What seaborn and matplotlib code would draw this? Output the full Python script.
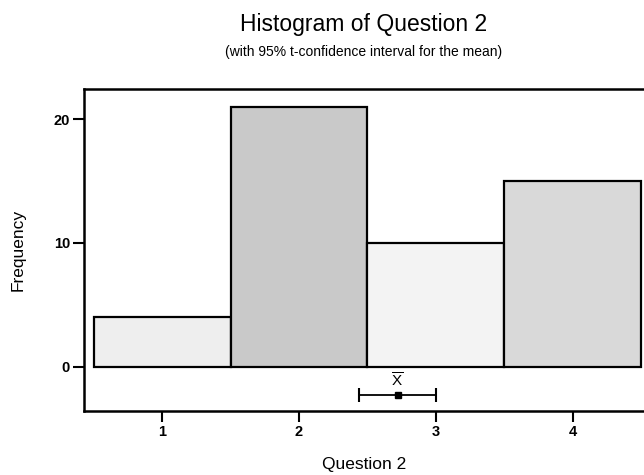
import numpy as np
import pandas as pd
import matplotlib
matplotlib.use('Agg')
import matplotlib.pyplot as plt
import seaborn as sns

# values
answers = [1, 2, 3, 4]
counts = [4, 21, 10, 15]
mean_x = 2.72
ci_low = 2.44
ci_high = 3.00
x_ticks = [1, 2, 3, 4]
y_ticks = [0, 10, 20]

sns.set_theme(style="ticks")
plt.rcParams['font.family'] = ['Liberation Sans', 'DejaVu Sans']
plt.rcParams['mathtext.fontset'] = 'custom'
plt.rcParams['mathtext.rm'] = 'Liberation Sans'
plt.rcParams['text.color'] = 'black'
plt.rcParams['axes.labelcolor'] = 'black'
plt.rcParams['xtick.color'] = 'black'
plt.rcParams['ytick.color'] = 'black'

df = pd.DataFrame({'answer': answers, 'count': counts})

fig = plt.figure(figsize=(6.44, 4.75), dpi=100)
ax = fig.add_axes([84/644, 1 - 411/475, 560/644, 322/475])

sns.histplot(data=df, x='answer', weights='count', discrete=True, ax=ax,
             color='#dddddd', edgecolor='black', linewidth=1.6, alpha=1)

# scanned look: bars 2 and 4 come out darker
shades = ['#eeeeee', '#c9c9c9', '#f3f3f3', '#d9d9d9']
for patch, shade in zip(ax.patches, shades):
    patch.set_facecolor(shade)

# 95% t-interval for the mean, below the bars
ax.errorbar([mean_x], [-2.26], xerr=[[mean_x - ci_low], [ci_high - mean_x]],
            fmt='s', color='black', markersize=4, capsize=5, capthick=1.5,
            elinewidth=1.3)
ax.text(mean_x, -1.15, r'$\overline{\mathrm{X}}$', ha='center', va='center', fontsize=11)

ax.set_xlim(0.43, 4.52)
ax.set_ylim(-3.55, 22.42)
ax.set_xticks(x_ticks)
ax.set_yticks(y_ticks)
ax.tick_params(axis='both', direction='out', length=8, width=1.5, labelsize=10.5, pad=2)
for lab in ax.get_xticklabels() + ax.get_yticklabels():
    lab.set_fontweight('bold')

for side in ['left', 'top', 'bottom']:
    ax.spines[side].set_linewidth(1.8)
    ax.spines[side].set_color('black')
ax.spines['right'].set_visible(False)

ax.set_xlabel('Question 2', fontsize=12.5, labelpad=13)
ax.set_ylabel('Frequency', fontsize=12.5, labelpad=20)

fig.text(364/644, 1 - 24/475, 'Histogram of Question 2', ha='center', va='center', fontsize=16.5)
fig.text(364/644, 1 - 52/475, '(with 95% t-confidence interval for the mean)',
         ha='center', va='center', fontsize=10)

fig.savefig('out.png', dpi=100)
